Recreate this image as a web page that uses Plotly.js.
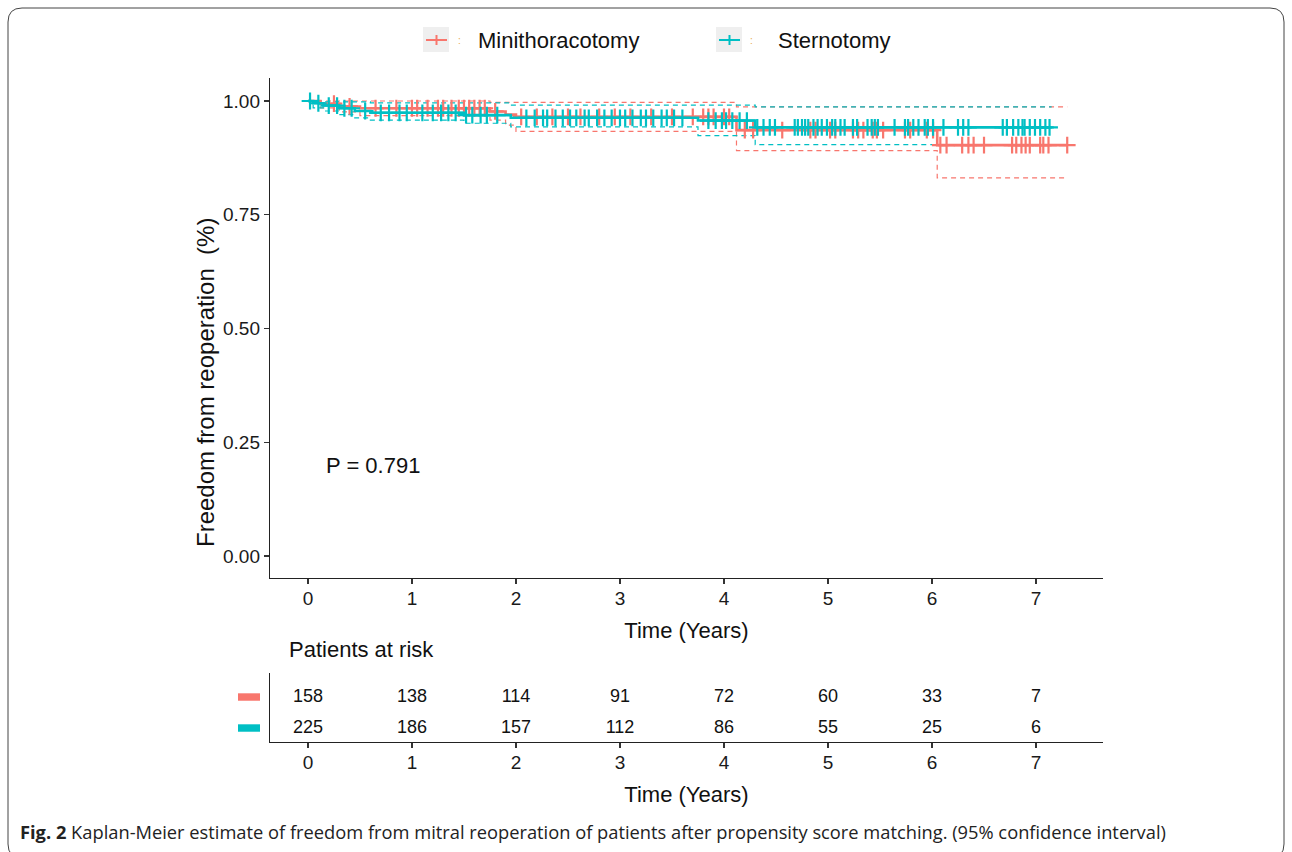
<!DOCTYPE html>
<html>
<head>
<meta charset="utf-8">
<script src="https://cdn.plot.ly/plotly-3.0.1.min.js"></script>
<style>html,body{margin:0;padding:0;background:#fff;}#chart{width:1292px;height:852px;}</style>
</head>
<body>
<div id="chart"></div>
<script>
// ---------------- DATA ----------------
const groups = ["Minithoracotomy", "Sternotomy"];
const colors = ["#F8766D", "#00BFC4"];

// Kaplan-Meier step estimates (time in years, survival)
const miniTimes = [0, 0.12, 0.3, 0.5, 1.75, 1.9, 2.0, 4.12, 6.05, 7.3];
const miniSurv  = [1.0, 0.994, 0.988, 0.984, 0.977, 0.970, 0.965, 0.936, 0.903, 0.903];
const miniUpTimes = [0, 1.75, 4.12, 7.3];
const miniUpSurv  = [1.0, 0.997, 0.987, 0.987];
const miniLoTimes = [0, 0.12, 0.3, 0.5, 1.75, 1.9, 2.0, 4.12, 6.05, 7.3];
const miniLoSurv  = [1.0, 0.985, 0.976, 0.968, 0.958, 0.947, 0.933, 0.891, 0.831, 0.831];
const miniCensor = [0.25, 0.4, 0.65, 0.85, 1.0, 1.05, 1.15, 1.25, 1.3, 1.38, 1.45, 1.5, 1.55, 1.6, 1.65, 1.7, 1.8,
  2.05, 2.2, 2.35, 2.5, 2.62, 2.8, 2.95, 3.1, 3.3, 3.5, 3.7, 3.8, 3.85, 3.9, 4.0, 4.05,
  4.2, 4.28, 4.56, 4.83, 4.88, 5.02, 5.07, 5.24, 5.29, 5.34, 5.43, 5.47, 5.53, 5.74, 5.79, 5.95, 6.01,
  6.08, 6.14, 6.29, 6.35, 6.4, 6.5, 6.77, 6.81, 6.86, 6.9, 6.94, 7.04, 7.07, 7.12, 7.3];

const sternTimes = [0, 0.05, 0.15, 0.3, 0.45, 0.6, 1.5, 1.95, 3.75, 4.3, 7.15];
const sternSurv  = [1.0, 0.995, 0.990, 0.984, 0.978, 0.974, 0.969, 0.963, 0.957, 0.942, 0.942];
const sternUpTimes = [0, 0.15, 0.6, 1.95, 4.3, 7.15];
const sternUpSurv  = [1.0, 0.998, 0.996, 0.991, 0.987, 0.987];
const sternLoTimes = [0, 0.05, 0.15, 0.3, 0.45, 0.6, 1.5, 1.95, 3.75, 4.3, 7.15];
const sternLoSurv  = [1.0, 0.985, 0.978, 0.970, 0.963, 0.958, 0.951, 0.943, 0.924, 0.904, 0.904];
const sternCensor = [0.02, 0.1, 0.2, 0.28, 0.35, 0.42, 0.55, 0.7, 0.78, 0.88, 0.95, 1.1, 1.2, 1.28, 1.35, 1.42,
  1.52, 1.58, 1.66, 1.72, 1.82, 2.1, 2.18, 2.26, 2.3, 2.38, 2.45, 2.52, 2.58, 2.66, 2.7, 2.78, 2.85, 2.92,
  3.0, 3.05, 3.12, 3.2, 3.25, 3.32, 3.4, 3.45, 3.52, 3.6, 3.85, 3.92, 3.98, 4.02, 4.08, 4.15, 4.22,
  4.32, 4.38, 4.44, 4.49, 4.68, 4.71, 4.75, 4.78, 4.81, 4.86, 4.9, 4.94, 4.99, 5.04, 5.07, 5.12, 5.16,
  5.24, 5.28, 5.38, 5.42, 5.45, 5.48, 5.64, 5.74, 5.77, 5.82, 5.87, 5.93, 5.96, 6.01, 6.11, 6.25, 6.3,
  6.35, 6.68, 6.72, 6.78, 6.83, 6.87, 6.89, 6.94, 6.99, 7.04, 7.09, 7.13];

// Patients at risk table
const riskTimes = [0, 1, 2, 3, 4, 5, 6, 7];
const riskMini  = [158, 138, 114, 91, 72, 60, 33, 7];
const riskStern = [225, 186, 157, 112, 86, 55, 25, 6];

const yTickVals = [0, 0.25, 0.5, 0.75, 1.0];
const yTickText = ["0.00", "0.25", "0.50", "0.75", "1.00"];
const xTickVals = [0, 1, 2, 3, 4, 5, 6, 7];
const pValueText = "P = 0.791";

// ---------------- HELPERS ----------------
const W = 1292, H = 852;
const px = v => v / W;
const py = v => 1 - v / H;
function stepAt(T, S, t) {
  let v = S[0];
  for (let i = 0; i < T.length; i++) { if (T[i] <= t) v = S[i]; }
  return v;
}
const FONT = "'Liberation Sans', Arial, sans-serif";

function ciTrace(x, y, c) {
  return {x: x, y: y, mode: "lines", type: "scatter", hoverinfo: "skip", showlegend: false,
    line: {shape: "hv", color: c, width: 1.2, dash: "5px,4px"}, xaxis: "x", yaxis: "y"};
}
function kmTrace(x, y, c) {
  return {x: x, y: y, mode: "lines", type: "scatter", showlegend: false,
    line: {shape: "hv", color: c, width: 2.6}, xaxis: "x", yaxis: "y"};
}
function censorTrace(times, T, S, c) {
  return {x: times, y: times.map(t => stepAt(T, S, t)), mode: "markers", type: "scatter", showlegend: false,
    marker: {symbol: "cross-thin", size: 12, color: c, line: {color: c, width: 2.2}}, xaxis: "x", yaxis: "y"};
}

const traces = [
  ciTrace(miniUpTimes, miniUpSurv, colors[0]),
  ciTrace(miniLoTimes, miniLoSurv, colors[0]),
  ciTrace(sternUpTimes, sternUpSurv, colors[1]),
  ciTrace(sternLoTimes, sternLoSurv, colors[1]),
  kmTrace(miniTimes, miniSurv, colors[0]),
  censorTrace(miniCensor, miniTimes, miniSurv, colors[0]),
  kmTrace(sternTimes, sternSurv, colors[1]),
  censorTrace(sternCensor, sternTimes, sternSurv, colors[1]),
  {x: riskTimes, y: riskTimes.map(() => 2), text: riskMini.map(String), mode: "text", type: "scatter",
   textfont: {family: FONT, size: 18, color: "#111"}, showlegend: false, xaxis: "x2", yaxis: "y2", cliponaxis: false},
  {x: riskTimes, y: riskTimes.map(() => 1), text: riskStern.map(String), mode: "text", type: "scatter",
   textfont: {family: FONT, size: 18, color: "#111"}, showlegend: false, xaxis: "x2", yaxis: "y2", cliponaxis: false}
];

// rounded frame
function roundRect(x0, y0, x1, y1, r) {
  const rx = r / W, ry = r / H;
  const X0 = px(x0), X1 = px(x1), Y0 = py(y0), Y1 = py(y1);
  return `M ${X0 + rx} ${Y0} L ${X1 - rx} ${Y0} Q ${X1} ${Y0} ${X1} ${Y0 - ry} L ${X1} ${Y1 + ry} Q ${X1} ${Y1} ${X1 - rx} ${Y1} ` +
         `L ${X0 + rx} ${Y1} Q ${X0} ${Y1} ${X0} ${Y1 + ry} L ${X0} ${Y0 - ry} Q ${X0} ${Y0} ${X0 + rx} ${Y0} Z`;
}

const shapes = [
  {type: "path", xref: "paper", yref: "paper", path: roundRect(8, 8, 1284, 858, 14), line: {color: "#444", width: 1}},
  // legend keys
  {type: "rect", xref: "paper", yref: "paper", x0: px(423), x1: px(449), y0: py(52), y1: py(27), fillcolor: "#EFEFEF", line: {width: 0}},
  {type: "line", xref: "paper", yref: "paper", x0: px(426), x1: px(447), y0: py(40), y1: py(40), line: {color: colors[0], width: 2}},
  {type: "line", xref: "paper", yref: "paper", x0: px(436.5), x1: px(436.5), y0: py(35), y1: py(45), line: {color: colors[0], width: 2}},
  {type: "rect", xref: "paper", yref: "paper", x0: px(716), x1: px(742), y0: py(52), y1: py(27), fillcolor: "#EFEFEF", line: {width: 0}},
  {type: "line", xref: "paper", yref: "paper", x0: px(719), x1: px(740), y0: py(40), y1: py(40), line: {color: colors[1], width: 2}},
  {type: "line", xref: "paper", yref: "paper", x0: px(729.5), x1: px(729.5), y0: py(35), y1: py(45), line: {color: colors[1], width: 2}},
  // risk table colour keys
  {type: "rect", xref: "paper", yref: "y2", x0: px(238), x1: px(260), y0: 1.88, y1: 2.12, fillcolor: colors[0], line: {width: 0}},
  {type: "rect", xref: "paper", yref: "y2", x0: px(238), x1: px(260), y0: 0.88, y1: 1.12, fillcolor: colors[1], line: {width: 0}}
];

const annotations = [
  {xref: "paper", yref: "paper", x: px(476), y: py(40), xanchor: "left", yanchor: "middle", text: groups[0], showarrow: false,
   font: {family: FONT, size: 22, color: "#111"}},
  {xref: "paper", yref: "paper", x: px(776), y: py(41), xanchor: "left", yanchor: "middle", text: groups[1], showarrow: false,
   font: {family: FONT, size: 22, color: "#111"}},
  {xref: "paper", yref: "paper", x: px(459), y: py(40), xanchor: "center", yanchor: "middle", text: ":", showarrow: false,
   font: {family: FONT, size: 10, color: "#E8A84A"}},
  {xref: "paper", yref: "paper", x: px(752), y: py(40), xanchor: "center", yanchor: "middle", text: ":", showarrow: false,
   font: {family: FONT, size: 10, color: "#E8A84A"}},
  {xref: "x", yref: "y", x: 0.15, y: 0.198, xanchor: "left", yanchor: "middle", text: pValueText, showarrow: false,
   font: {family: FONT, size: 22, color: "#111"}},
  {xref: "paper", yref: "paper", x: px(287), y: py(649), xanchor: "left", yanchor: "middle", text: "Patients at risk", showarrow: false,
   font: {family: FONT, size: 22, color: "#111"}},
  // y-axis title (placed as in the reference, below the panel centre)
  {xref: "paper", yref: "paper", x: px(205), y: py(383), xanchor: "center", yanchor: "middle", textangle: -90,
   text: "Freedom from reoperation  (%)", showarrow: false, font: {family: FONT, size: 24, color: "#111"}},
  {xref: "paper", yref: "paper", x: px(18), y: py(831), xanchor: "left", yanchor: "middle",
   text: "<b>Fig. 2</b> Kaplan-Meier estimate of freedom from mitral reoperation of patients after propensity score matching. (95% confidence interval)",
   showarrow: false, font: {family: "'Open Sans', sans-serif", size: 18.3, color: "#222"}}
];

function axisCommon() {
  return {showgrid: false, zeroline: false, showline: true, linecolor: "#222", linewidth: 1.2,
    ticks: "outside", ticklen: 5, tickwidth: 1.2, tickcolor: "#333", automargin: false,
    tickfont: {family: FONT, size: 19, color: "#1a1a1a"}};
}

const layout = {
  width: W, height: H, autosize: false,
  margin: {l: 0, r: 0, t: 0, b: 0, pad: 0},
  paper_bgcolor: "#fff", plot_bgcolor: "#fff",
  showlegend: false,
  font: {family: FONT, color: "#222"},
  xaxis: Object.assign(axisCommon(), {domain: [px(270), px(1103)], range: [-0.365, 7.644], anchor: "y",
    tickvals: xTickVals, ticklabelstandoff: -2,
    title: {text: "Time (Years)", font: {family: FONT, size: 22, color: "#111"}, standoff: 14}}),
  yaxis: Object.assign(axisCommon(), {domain: [py(578), py(78)], range: [-0.0484, 1.0505], anchor: "x",
    tickvals: yTickVals, ticktext: yTickText, title: {text: ""}}),
  xaxis2: Object.assign(axisCommon(), {domain: [px(270), px(1103)], range: [-0.365, 7.644], anchor: "y2",
    tickvals: xTickVals, ticklabelstandoff: -2,
    title: {text: "Time (Years)", font: {family: FONT, size: 22, color: "#111"}, standoff: 14}}),
  yaxis2: Object.assign(axisCommon(), {domain: [py(742), py(673)], range: [0.549, 2.775], anchor: "x2",
    showticklabels: false, ticks: ""}),
  shapes: shapes,
  annotations: annotations
};

Plotly.newPlot("chart", traces, layout, {displayModeBar: false, staticPlot: true});
</script>
</body>
</html>
